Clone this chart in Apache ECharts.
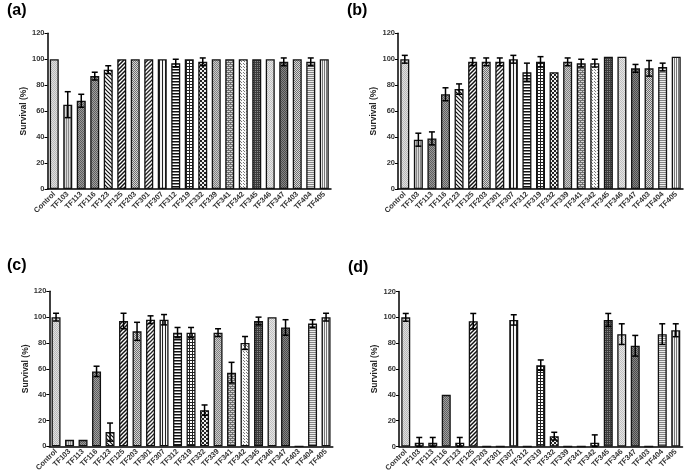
<!DOCTYPE html>
<html>
<head>
<meta charset="utf-8">
<script src="https://cdn.jsdelivr.net/npm/echarts@6/dist/echarts.min.js"></script>
<style>
html,body{margin:0;padding:0;background:#fff;}
#chart{width:685px;height:476px;}
</style>
</head>
<body>
<div id="chart"></div>
<script>
// ---- data ----
const categories = ['Control','TF103','TF113','TF116','TF123','TF125','TF203','TF301','TF307','TF312','TF319','TF332','TF339','TF341','TF342','TF345','TF346','TF347','TF403','TF404','TF405'];
const yTicks = [0, 20, 40, 60, 80, 100, 120];

const meanA = [100, 65, 68, 87, 92, 100, 100, 100, 100, 97, 100, 98, 100, 100, 100, 100, 100, 98, 100, 98, 100];
const errA  = [0, 10, 5, 3, 3, 0, 0, 0, 0, 3, 0, 3, 0, 0, 0, 0, 0, 3, 0, 3, 0];

const meanB = [100, 38, 39, 73, 77, 98, 98, 98, 100, 90, 98, 90, 98, 97, 97, 102, 102, 93, 93, 94, 102];
const errB  = [3, 5, 5, 5, 4, 3, 3, 3, 3, 7, 4, 0, 3, 3, 3, 0, 0, 3, 6, 3, 0];

const meanC = [100, 5, 5, 58, 11, 97, 89, 98, 98, 88, 88, 28, 88, 57, 80, 97, 100, 92, 0, 95, 100];
const errC  = [3, 0, 0, 4, 7, 6, 7, 3, 4, 4, 4, 4, 3, 8, 5, 3, 0, 6, 0, 3, 3];

const meanD = [100, 3, 3, 40, 3, 97, 0, 0, 98, 0, 63, 8, 0, 0, 3, 98, 87, 78, 0, 87, 90];
const errD  = [3, 4, 4, 0, 4, 6, 0, 0, 4, 0, 4, 3, 0, 0, 6, 5, 8, 8, 0, 8, 5];

const panelLabels = ['(a)', '(b)', '(c)', '(d)'];

// ---- patterns (styling) ----
function pat(kind, fg, bg, s, w) {
  const c = document.createElement('canvas');
  c.width = s; c.height = s;
  const g = c.getContext('2d');
  g.fillStyle = bg; g.fillRect(0, 0, s, s);
  g.fillStyle = fg; g.strokeStyle = fg; g.lineWidth = w || 1;
  if (kind === 'checker') {
    for (let y = 0; y < s; y++) for (let x = 0; x < s; x++) if ((x + y) % 2 === 0) g.fillRect(x, y, 1, 1);
  } else if (kind === 'vl') {
    g.fillRect(0, 0, w || 1, s);
  } else if (kind === 'hl') {
    g.fillRect(0, 0, s, w || 1);
  } else if (kind === 'grid') {
    g.fillRect(0, 0, w || 1, s); g.fillRect(0, 0, s, w || 1);
  } else if (kind === 'fs') {
    for (const o of [-s, 0, s]) { g.beginPath(); g.moveTo(o - 1, s + 1); g.lineTo(o + s + 1, -1); g.stroke(); }
  } else if (kind === 'bs') {
    for (const o of [-s, 0, s]) { g.beginPath(); g.moveTo(o - 1, -1); g.lineTo(o + s + 1, s + 1); g.stroke(); }
  } else if (kind === 'dots') {
    g.fillRect(0, 0, 1, 1);
  } else if (kind === 'dots2') {
    g.fillRect(0, 0, 1, 1); g.fillRect(Math.floor(s / 2), Math.floor(s / 2), 1, 1);
  } else if (kind === 'diamond') {
    const h = s / 2;
    g.fillRect(0, 0, h, h); g.fillRect(h, h, h, h);
  } else if (kind === 'brick') {
    g.fillRect(0, 0, s, 1); g.fillRect(0, s / 2, s, 1);
    g.fillRect(0, 0, 1, s / 2); g.fillRect(s / 2, s / 2, 1, s / 2);
  }
  return { image: c, repeat: 'repeat' };
}

const fills = [
  pat('checker', '#b8b8b8', '#e0e0e0', 2),     // Control
  pat('vl', '#888', '#d8d8d8', 2),             // TF103
  pat('checker', '#5e5e5e', '#9a9a9a', 2),     // TF113
  pat('checker', '#5e5e5e', '#a0a0a0', 2),     // TF116
  pat('bs', '#111', '#fff', 4, 1.2),           // TF123
  pat('fs', '#111', '#fff', 4, 1.5),           // TF125
  pat('checker', '#707070', '#d4d4d4', 2),     // TF203
  pat('fs', '#222', '#fff', 4, 1.3),           // TF301
  pat('vl', '#222', '#f4f4f4', 3),             // TF307
  pat('hl', '#111', '#fff', 3, 1.5),           // TF312
  pat('grid', '#222', '#fff', 3),              // TF319
  pat('diamond', '#222', '#eee', 4),           // TF332
  pat('checker', '#808080', '#cbcbcb', 2),     // TF339
  pat('brick', '#707070', '#d4d4d4', 4),       // TF341
  pat('dots2', '#777', '#fafafa', 3),          // TF342
  pat('grid', '#3c3c3c', '#888', 2),           // TF345
  pat('checker', '#c0c0c0', '#e6e6e6', 2),     // TF346
  pat('checker', '#4c4c4c', '#858585', 2),     // TF347
  pat('checker', '#707070', '#d8d8d8', 2),     // TF403
  pat('hl', '#858585', '#ececec', 2),          // TF404
  pat('vl', '#777', '#f2f2f2', 2)              // TF405
];

const panels = [
  { mean: meanA, err: errA, grid: { left: 47.5, top: 33.3, width: 283.5, height: 155.7 } },
  { mean: meanB, err: errB, grid: { left: 398, top: 33.3, width: 285, height: 155.7 } },
  { mean: meanC, err: errC, grid: { left: 49.3, top: 291.3, width: 283.5, height: 155 } },
  { mean: meanD, err: errD, grid: { left: 399, top: 291.5, width: 283.5, height: 155 } }
];
const titlePos = [{ left: 2, top: -2 }, { left: 342, top: -2 }, { left: 2, top: 253 }, { left: 343, top: 255 }];

const FONT = 'Liberation Sans';
const grids = [], xAxes = [], yAxes = [], series = [], titles = [];

panels.forEach((p, i) => {
  grids.push(Object.assign({ containLabel: false }, p.grid));
  titles.push({ text: panelLabels[i], left: titlePos[i].left, top: titlePos[i].top,
    textStyle: { fontFamily: FONT, fontSize: 16, fontWeight: 'bold', color: '#000' } });
  xAxes.push({
    type: 'category', gridIndex: i, data: categories, boundaryGap: true,
    axisLine: { lineStyle: { color: '#000', width: 1.5 } },
    axisTick: { alignWithLabel: true, length: 3, lineStyle: { color: '#000', width: 1 } },
    axisLabel: { interval: 0, rotate: 45, fontFamily: FONT, fontSize: 7.5, fontWeight: 'bold', color: '#333', margin: 4 }
  });
  yAxes.push({
    type: 'value', gridIndex: i, min: yTicks[0], max: yTicks[yTicks.length - 1], interval: 20,
    name: 'Survival (%)', nameLocation: 'middle', nameGap: 19,
    nameTextStyle: { fontFamily: FONT, fontSize: 8.5, fontWeight: 'bold', color: '#222' },
    axisLine: { show: true, lineStyle: { color: '#000', width: 1.5 } },
    axisTick: { show: true, length: 3, lineStyle: { color: '#000', width: 1 } },
    axisLabel: { fontFamily: FONT, fontSize: 7.5, fontWeight: 'bold', color: '#333', margin: 3 },
    splitLine: { show: false }
  });
  series.push({
    type: 'bar', xAxisIndex: i, yAxisIndex: i, barWidth: 9, silent: true,
    data: p.mean.map((v, k) => ({ value: v, itemStyle: { color: fills[k], borderColor: '#111', borderWidth: 1.3 } })),
    animation: false
  });
  series.push({
    type: 'custom', xAxisIndex: i, yAxisIndex: i, silent: true, animation: false, z: 5,
    encode: { x: 0, y: 1 },
    data: p.mean.map((v, k) => [k, v, p.err[k]]).filter(d => d[2] > 0),
    renderItem: function (params, api) {
      const x = api.value(0), m = api.value(1), e = api.value(2);
      const t = api.coord([x, m + e]);
      const b = api.coord([x, Math.max(0, m - e)]);
      const hw = 3;
      const st = { stroke: '#000', lineWidth: 1.5 };
      return { type: 'group', children: [
        { type: 'line', shape: { x1: t[0], y1: t[1], x2: b[0], y2: b[1] }, style: st },
        { type: 'line', shape: { x1: t[0] - hw, y1: t[1], x2: t[0] + hw, y2: t[1] }, style: st },
        { type: 'line', shape: { x1: b[0] - hw, y1: b[1], x2: b[0] + hw, y2: b[1] }, style: st }
      ] };
    }
  });
});

const chart = echarts.init(document.getElementById('chart'), null, { renderer: 'canvas' });
chart.setOption({
  backgroundColor: '#fff',
  animation: false,
  title: titles,
  grid: grids,
  xAxis: xAxes,
  yAxis: yAxes,
  series: series
});
</script>
</body>
</html>
